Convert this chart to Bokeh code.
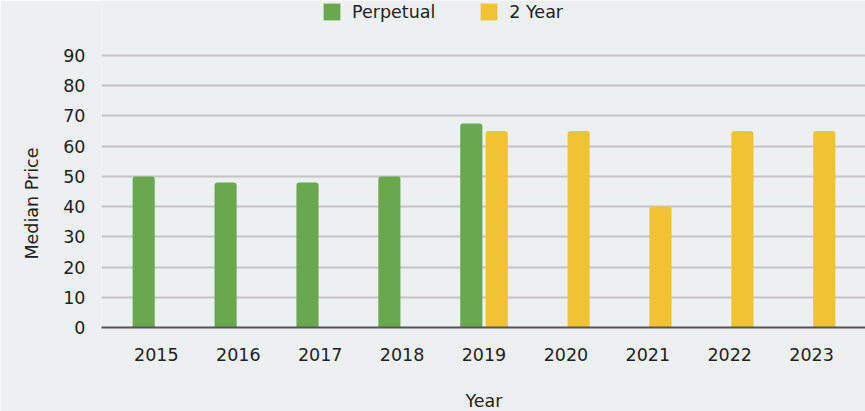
from bokeh.plotting import figure
from bokeh.models import ColumnDataSource, Range1d, FixedTicker, Legend, LegendItem, Title
from bokeh.embed import file_html
from bokeh.resources import INLINE

years = [2015, 2016, 2017, 2018, 2019, 2020, 2021, 2022, 2023]
perpetual = [50, 48, 48, 50, 67.5, None, None, None, None]
two_year = [None, None, None, None, 65, 65, 40, 65, 65]
y_ticks = [0, 10, 20, 30, 40, 50, 60, 70, 80, 90]

BG = "#ecf0f1"
GREEN = "#6aa84f"
YELLOW = "#f1c232"
FONT = "DejaVu Sans"
TXT = "#222222"
FS = "17.5px"

# frame spans the full height above the x axis so the legend (drawn in the frame) is not clipped
p = figure(frame_width=765, frame_height=327, output_backend="svg", toolbar_location=None,
           x_range=Range1d(2014.33, 2023.67), y_range=Range1d(0, 90 * 327 / 272),
           background_fill_color=BG, border_fill_color=BG,
           min_border_left=100, min_border_right=0, min_border_top=0, min_border_bottom=84)
p.outline_line_color = None

g_src = ColumnDataSource(dict(x=[y - 0.155 for y, v in zip(years, perpetual) if v is not None],
                              top=[v for v in perpetual if v is not None]))
y_src = ColumnDataSource(dict(x=[y + 0.155 for y, v in zip(years, two_year) if v is not None],
                              top=[v for v in two_year if v is not None]))
rg = p.vbar(x="x", top="top", width=0.27, source=g_src, fill_color=GREEN, line_color=None,
            border_radius=(3, 3, 0, 0))
ry = p.vbar(x="x", top="top", width=0.27, source=y_src, fill_color=YELLOW, line_color=None,
            border_radius=(3, 3, 0, 0))

p.xaxis.ticker = FixedTicker(ticks=years)
p.xaxis.major_label_overrides = {y: str(y) for y in years}
p.yaxis.ticker = FixedTicker(ticks=y_ticks)

for ax in (p.xaxis[0], p.yaxis[0]):
    ax.major_tick_line_color = None
    ax.minor_tick_line_color = None
    ax.major_label_text_font = FONT
    ax.major_label_text_font_size = FS
    ax.major_label_text_color = TXT
    ax.axis_label_text_font = FONT
    ax.axis_label_text_font_size = FS
    ax.axis_label_text_font_style = "normal"
    ax.axis_label_text_color = TXT

p.xaxis.axis_line_color = "#555555"
p.xaxis.axis_line_width = 2
p.yaxis.axis_line_color = None
p.xaxis.axis_label = "Year"
p.xaxis.major_label_standoff = 14
p.xaxis.axis_label_standoff = 27
p.yaxis.major_label_standoff = 10

# y-axis title as a side title, placed along the visible value area
ytitle = Title(text="Median Price", align="left", offset=68, standoff=38,
               text_font=FONT, text_font_size=FS, text_font_style="normal", text_color=TXT)
p.add_layout(ytitle, "left")

p.xgrid.grid_line_color = None
p.ygrid.grid_line_color = "#c4c4c4"
p.ygrid.grid_line_width = 2

legend = Legend(items=[LegendItem(label="Perpetual", renderers=[rg]),
                       LegendItem(label="2 Year", renderers=[ry])],
                orientation="horizontal", location=(220, 305),
                glyph_width=21, glyph_height=21, label_standoff=10, spacing=43,
                padding=0, margin=0, border_line_color=None, background_fill_alpha=0,
                label_text_font=FONT, label_text_font_size=FS, label_text_color=TXT)
p.add_layout(legend, "center")

open("out.html", "w").write(file_html(p, INLINE))
